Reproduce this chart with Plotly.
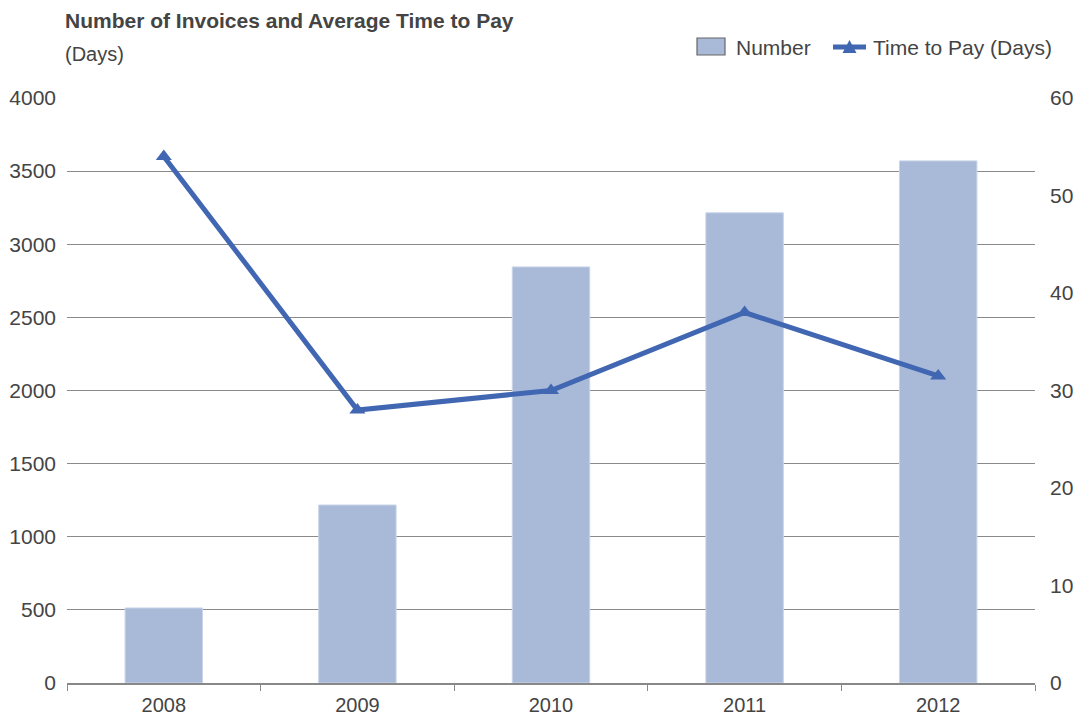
import plotly.graph_objects as go

years = ["2008", "2009", "2010", "2011", "2012"]
invoices = [513, 1217, 2845, 3215, 3570]
days = [54, 28, 30, 38, 31.5]

FONT = "Liberation Sans, Arial, Helvetica, sans-serif"
TXT = "#444444"
BAR = "#a9bad9"
LINE = "#4267b2"

# page has an 8px body margin; figure placed at (8, 8)
OFF = 8
W, H = 1084 - OFF, 716 - OFF
# plot area in page pixels: x 67..1035, y 98..683
L, R, T, B = 67, 1035, 98, 683
def px(x): return (x - L) / (R - L)
def py(y): return (B - y) / (B - T)

fig = go.Figure()
fig.add_trace(go.Bar(
    x=years, y=invoices, name="Number",
    marker=dict(color=BAR, line=dict(color="#c9d4e8", width=1)),
    yaxis="y", showlegend=False,
))
fig.add_trace(go.Scatter(
    x=years, y=days, name="Time to Pay (Days)", mode="lines+markers",
    line=dict(color=LINE, width=5),
    marker=dict(symbol="triangle-up", size=14, color=LINE),
    yaxis="y2", showlegend=False,
))

shapes = [
    dict(type="rect", xref="paper", yref="paper", x0=px(697), x1=px(725), y0=py(55), y1=py(38),
         fillcolor=BAR, line=dict(color="#666666", width=1.2)),
    dict(type="line", xref="paper", yref="paper", x0=px(833), x1=px(866), y0=py(47), y1=py(47),
         line=dict(color=LINE, width=5)),
    dict(type="path", xref="paper", yref="paper",
         path=f"M {px(842.5)},{py(53)} L {px(856.5)},{py(53)} L {px(849.5)},{py(40)} Z",
         fillcolor=LINE, line=dict(color=LINE, width=0)),
]

fig.update_layout(
    width=W, height=H,
    margin=dict(l=L - OFF, r=W - (R - OFF), t=T - OFF, b=H - (B - OFF), autoexpand=False),
    paper_bgcolor="white", plot_bgcolor="white",
    font=dict(family=FONT, size=21, color=TXT),
    bargap=0.6,
    showlegend=False,
    shapes=shapes,
    xaxis=dict(
        tickson="boundaries", ticks="outside", ticklen=6, tickcolor="#888888",
        showline=True, linecolor="#888888", linewidth=1.5, ticklabelstandoff=3,
        showgrid=False, tickfont=dict(size=20, color=TXT),
    ),
    yaxis=dict(
        range=[0, 4000], dtick=500, showgrid=True, gridcolor="#8a8a8a", gridwidth=1,
        zeroline=False, showline=False, ticks="", ticklabelstandoff=10,
        tickfont=dict(size=21, color=TXT),
    ),
    yaxis2=dict(
        range=[0, 60], dtick=10, overlaying="y", side="right", showgrid=False,
        zeroline=False, showline=False, ticks="", ticklabelstandoff=14,
        tickfont=dict(size=21, color=TXT),
    ),
    annotations=[
        dict(text="<b>Number of Invoices and Average Time to Pay</b>", xref="paper", yref="paper",
             x=px(63), y=py(20), xanchor="left", yanchor="middle", showarrow=False,
             font=dict(size=21, color=TXT, family=FONT)),
        dict(text="(Days)", xref="paper", yref="paper",
             x=px(63), y=py(54), xanchor="left", yanchor="middle", showarrow=False,
             font=dict(size=20, color=TXT, family=FONT)),
        dict(text="Number", xref="paper", yref="paper",
             x=px(734), y=py(47), xanchor="left", yanchor="middle", showarrow=False,
             font=dict(size=21, color=TXT, family=FONT)),
        dict(text="Time to Pay (Days)", xref="paper", yref="paper",
             x=px(871), y=py(47), xanchor="left", yanchor="middle", showarrow=False,
             font=dict(size=21, color=TXT, family=FONT)),
    ],
)

fig.write_html("out.html")
